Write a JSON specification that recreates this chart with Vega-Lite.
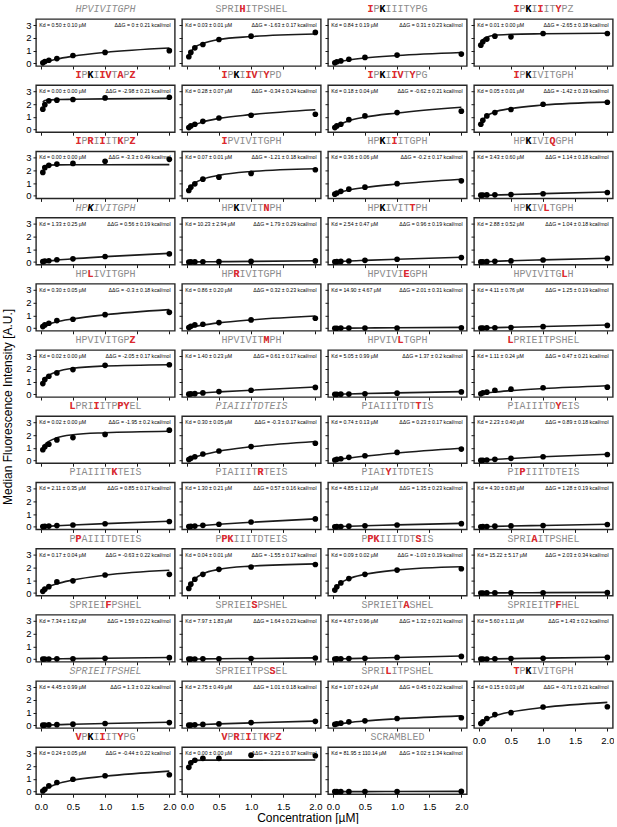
{
"$schema": "https://vega.github.io/schema/vega-lite/v6.json",
"background": "white",
"padding": {"left": 2, "top": 3, "right": 0, "bottom": 0},
"datasets": {"D": [
{"p":1,"x":0.03125,"y":0.05,"f":0.03},{"p":1,"x":0.0625,"y":0.15,"f":0.09},{"p":1,"x":0.125,"y":0.25,"f":0.18},{"p":1,"x":0.25,"y":0.38,"f":0.34},{"p":1,"x":0.5,"y":0.62,"f":0.56},{"p":1,"x":1,"y":0.86,"f":0.86},
{"p":1,"x":2,"y":1.0,"f":1.2,"g":"HPVIVITGPH","it":true,"kd":"Kd = 0.50 ± 0.10 µM","dg":"ΔΔG = 0 ± 0.21 kcal/mol"},
{"p":2,"x":0.03125,"y":0.52,"f":0.55},{"p":2,"x":0.0625,"y":0.86,"f":0.9},{"p":2,"x":0.125,"y":1.22,"f":1.25},{"p":2,"x":0.25,"y":1.48,"f":1.55},{"p":2,"x":0.5,"y":1.87,"f":1.87},{"p":2,"x":1,"y":2.13,"f":2.1},
{"p":2,"x":2,"y":2.42,"f":2.3,"g":"SPRIHITPSHEL","r":"\u200b\u00a0\u00a0\u00a0\u00a0H\u00a0\u00a0\u00a0\u00a0\u00a0\u00a0\u00a0\u200b","kd":"Kd = 0.03 ± 0.01 µM","dg":"ΔΔG = -1.63 ± 0.17 kcal/mol"},
{"p":3,"x":0.03125,"y":0.05,"f":0.04},{"p":3,"x":0.0625,"y":0.13,"f":0.09},{"p":3,"x":0.125,"y":0.2,"f":0.16},{"p":3,"x":0.25,"y":0.33,"f":0.27},{"p":3,"x":0.5,"y":0.47,"f":0.43},{"p":3,"x":1,"y":0.65,"f":0.62},
{"p":3,"x":2,"y":0.73,"f":0.86,"g":"IPKIIITYPG","r":"\u200bI\u00a0\u00a0\u00a0\u00a0\u00a0\u00a0\u00a0\u00a0\u00a0\u200b","k":"\u200b\u00a0\u00a0K\u00a0\u00a0\u00a0\u00a0\u00a0\u00a0\u00a0\u200b","kd":"Kd = 0.84 ± 0.19 µM","dg":"ΔΔG = 0.31 ± 0.23 kcal/mol"},
{"p":4,"x":0.03125,"y":1.43,"f":1.6},{"p":4,"x":0.0625,"y":1.69,"f":1.85},{"p":4,"x":0.125,"y":1.9,"f":2.05},{"p":4,"x":0.25,"y":2.13,"f":2.2},{"p":4,"x":0.5,"y":2.08,"f":2.27},{"p":4,"x":1,"y":2.34,"f":2.32},
{"p":4,"x":2,"y":2.34,"f":2.36,"g":"IPKIIITYPZ","r":"\u200bI\u00a0\u00a0\u00a0I\u00a0\u00a0Y\u00a0\u00a0\u200b","k":"\u200b\u00a0\u00a0K\u00a0\u00a0\u00a0\u00a0\u00a0\u00a0\u00a0\u200b","kd":"Kd = 0.01 ± 0.00 µM","dg":"ΔΔG = -2.65 ± 0.18 kcal/mol"},
{"p":5,"x":0.03125,"y":1.6,"f":2.15},{"p":5,"x":0.0625,"y":1.95,"f":2.27},{"p":5,"x":0.125,"y":2.25,"f":2.32},{"p":5,"x":0.25,"y":2.3,"f":2.35},{"p":5,"x":0.5,"y":2.35,"f":2.37},{"p":5,"x":1,"y":2.48,"f":2.4},
{"p":5,"x":2,"y":2.53,"f":2.44,"g":"IPKIIVTAPZ","r":"\u200bI\u00a0\u00a0\u00a0IV\u00a0A\u00a0Z\u200b","k":"\u200b\u00a0\u00a0K\u00a0\u00a0\u00a0\u00a0\u00a0\u00a0\u00a0\u200b","kd":"Kd = 0.00 ± 0.00 µM","dg":"ΔΔG = -2.98 ± 0.21 kcal/mol"},
{"p":6,"x":0.03125,"y":0.16,"f":0.1},{"p":6,"x":0.0625,"y":0.29,"f":0.22},{"p":6,"x":0.125,"y":0.42,"f":0.38},{"p":6,"x":0.25,"y":0.65,"f":0.6},{"p":6,"x":0.5,"y":0.91,"f":0.88},{"p":6,"x":1,"y":1.12,"f":1.17},
{"p":6,"x":2,"y":1.2,"f":1.55,"g":"IPKIIVTYPD","r":"\u200bI\u00a0\u00a0\u00a0IV\u00a0Y\u00a0\u00a0\u200b","k":"\u200b\u00a0\u00a0K\u00a0\u00a0\u00a0\u00a0\u00a0\u00a0\u00a0\u200b","kd":"Kd = 0.28 ± 0.07 µM","dg":"ΔΔG = -0.34 ± 0.24 kcal/mol"},
{"p":7,"x":0.03125,"y":0.16,"f":0.13},{"p":7,"x":0.0625,"y":0.29,"f":0.25},{"p":7,"x":0.125,"y":0.42,"f":0.44},{"p":7,"x":0.25,"y":0.78,"f":0.7},{"p":7,"x":0.5,"y":1.07,"f":0.98},{"p":7,"x":1,"y":1.33,"f":1.3},
{"p":7,"x":2,"y":1.44,"f":1.75,"g":"IPKIIVTYPG","r":"\u200bI\u00a0\u00a0\u00a0IV\u00a0Y\u00a0\u00a0\u200b","k":"\u200b\u00a0\u00a0K\u00a0\u00a0\u00a0\u00a0\u00a0\u00a0\u00a0\u200b","kd":"Kd = 0.18 ± 0.04 µM","dg":"ΔΔG = -0.62 ± 0.21 kcal/mol"},
{"p":8,"x":0.03125,"y":0.42,"f":0.45},{"p":8,"x":0.0625,"y":0.73,"f":0.75},{"p":8,"x":0.125,"y":1.07,"f":1.08},{"p":8,"x":0.25,"y":1.33,"f":1.38},{"p":8,"x":0.5,"y":1.57,"f":1.65},{"p":8,"x":1,"y":1.98,"f":1.92},
{"p":8,"x":2,"y":2.14,"f":2.15,"g":"IPKIVITGPH","r":"\u200bI\u00a0\u00a0\u00a0\u00a0\u00a0\u00a0\u00a0\u00a0\u00a0\u200b","k":"\u200b\u00a0\u00a0K\u00a0\u00a0\u00a0\u00a0\u00a0\u00a0\u00a0\u200b","kd":"Kd = 0.05 ± 0.01 µM","dg":"ΔΔG = -1.42 ± 0.19 kcal/mol"},
{"p":9,"x":0.03125,"y":1.83,"f":2.2},{"p":9,"x":0.0625,"y":2.2,"f":2.33},{"p":9,"x":0.125,"y":2.38,"f":2.4},{"p":9,"x":0.25,"y":2.48,"f":2.42},{"p":9,"x":0.5,"y":2.53,"f":2.43},{"p":9,"x":1,"y":2.7,"f":2.43},
{"p":9,"x":2,"y":2.85,"f":2.44,"g":"IPRIIITKPZ","r":"\u200bI\u00a0R\u00a0I\u00a0\u00a0K\u00a0Z\u200b","kd":"Kd = 0.00 ± 0.00 µM","dg":"ΔΔG = -3.3 ± 0.49 kcal/mol"},
{"p":10,"x":0.03125,"y":0.42,"f":0.45},{"p":10,"x":0.0625,"y":0.68,"f":0.72},{"p":10,"x":0.125,"y":0.94,"f":1.0},{"p":10,"x":0.25,"y":1.3,"f":1.3},{"p":10,"x":0.5,"y":1.46,"f":1.6},{"p":10,"x":1,"y":1.75,"f":1.9},
{"p":10,"x":2,"y":2.04,"f":2.12,"g":"IPVIVITGPH","r":"\u200bI\u00a0\u00a0\u00a0\u00a0\u00a0\u00a0\u00a0\u00a0\u00a0\u200b","kd":"Kd = 0.07 ± 0.01 µM","dg":"ΔΔG = -1.21 ± 0.18 kcal/mol"},
{"p":11,"x":0.03125,"y":0.13,"f":0.07},{"p":11,"x":0.0625,"y":0.22,"f":0.15},{"p":11,"x":0.125,"y":0.35,"f":0.28},{"p":11,"x":0.25,"y":0.52,"f":0.45},{"p":11,"x":0.5,"y":0.68,"f":0.65},{"p":11,"x":1,"y":0.95,"f":0.92},
{"p":11,"x":2,"y":1.17,"f":1.3,"g":"HPKIIITGPH","r":"\u200b\u00a0\u00a0\u00a0\u00a0I\u00a0\u00a0\u00a0\u00a0\u00a0\u200b","k":"\u200b\u00a0\u00a0K\u00a0\u00a0\u00a0\u00a0\u00a0\u00a0\u00a0\u200b","kd":"Kd = 0.36 ± 0.06 µM","dg":"ΔΔG = -0.2 ± 0.17 kcal/mol"},
{"p":12,"x":0.03125,"y":0.05,"f":0.01},{"p":12,"x":0.0625,"y":0.06,"f":0.02},{"p":12,"x":0.125,"y":0.07,"f":0.04},{"p":12,"x":0.25,"y":0.08,"f":0.06},{"p":12,"x":0.5,"y":0.1,"f":0.1},{"p":12,"x":1,"y":0.16,"f":0.17},
{"p":12,"x":2,"y":0.26,"f":0.3,"g":"HPKIVIQGPH","r":"\u200b\u00a0\u00a0\u00a0\u00a0\u00a0\u00a0Q\u00a0\u00a0\u00a0\u200b","k":"\u200b\u00a0\u00a0K\u00a0\u00a0\u00a0\u00a0\u00a0\u00a0\u00a0\u200b","kd":"Kd = 3.43 ± 0.60 µM","dg":"ΔΔG = 1.14 ± 0.18 kcal/mol"},
{"p":13,"x":0.03125,"y":0.03,"f":0.02},{"p":13,"x":0.0625,"y":0.08,"f":0.04},{"p":13,"x":0.125,"y":0.1,"f":0.08},{"p":13,"x":0.25,"y":0.18,"f":0.15},{"p":13,"x":0.5,"y":0.25,"f":0.26},{"p":13,"x":1,"y":0.43,"f":0.42},
{"p":13,"x":2,"y":0.64,"f":0.68,"g":"HPKIVITGPH","it":true,"k":"\u200b\u00a0\u00a0K\u00a0\u00a0\u00a0\u00a0\u00a0\u00a0\u00a0\u200b","kd":"Kd = 1.33 ± 0.25 µM","dg":"ΔΔG = 0.56 ± 0.19 kcal/mol"},
{"p":14,"x":0.03125,"y":0,"f":0},{"p":14,"x":0.0625,"y":0.01,"f":0.005},{"p":14,"x":0.125,"y":0.01,"f":0.01},{"p":14,"x":0.25,"y":0.02,"f":0.02},{"p":14,"x":0.5,"y":0.03,"f":0.03},{"p":14,"x":1,"y":0.05,"f":0.05},
{"p":14,"x":2,"y":0.09,"f":0.1,"g":"HPKIVITNPH","r":"\u200b\u00a0\u00a0\u00a0\u00a0\u00a0\u00a0\u00a0N\u00a0\u00a0\u200b","k":"\u200b\u00a0\u00a0K\u00a0\u00a0\u00a0\u00a0\u00a0\u00a0\u00a0\u200b","kd":"Kd = 10.23 ± 2.94 µM","dg":"ΔΔG = 1.79 ± 0.29 kcal/mol"},
{"p":15,"x":0.03125,"y":0.02,"f":0.01},{"p":15,"x":0.0625,"y":0.03,"f":0.02},{"p":15,"x":0.125,"y":0.05,"f":0.04},{"p":15,"x":0.25,"y":0.08,"f":0.08},{"p":15,"x":0.5,"y":0.13,"f":0.13},{"p":15,"x":1,"y":0.22,"f":0.22},
{"p":15,"x":2,"y":0.35,"f":0.37,"g":"HPKIVITTPH","r":"\u200b\u00a0\u00a0\u00a0\u00a0\u00a0\u00a0\u00a0T\u00a0\u00a0\u200b","k":"\u200b\u00a0\u00a0K\u00a0\u00a0\u00a0\u00a0\u00a0\u00a0\u00a0\u200b","kd":"Kd = 2.54 ± 0.47 µM","dg":"ΔΔG = 0.96 ± 0.19 kcal/mol"},
{"p":16,"x":0.03125,"y":0.01,"f":0.01},{"p":16,"x":0.0625,"y":0.02,"f":0.02},{"p":16,"x":0.125,"y":0.03,"f":0.03},{"p":16,"x":0.25,"y":0.06,"f":0.06},{"p":16,"x":0.5,"y":0.09,"f":0.1},{"p":16,"x":1,"y":0.16,"f":0.17},
{"p":16,"x":2,"y":0.28,"f":0.3,"g":"HPKIVLTGPH","r":"\u200b\u00a0\u00a0\u00a0\u00a0\u00a0L\u00a0\u00a0\u00a0\u00a0\u200b","k":"\u200b\u00a0\u00a0K\u00a0\u00a0\u00a0\u00a0\u00a0\u00a0\u00a0\u200b","kd":"Kd = 2.88 ± 0.52 µM","dg":"ΔΔG = 1.04 ± 0.18 kcal/mol"},
{"p":17,"x":0.03125,"y":0.13,"f":0.07},{"p":17,"x":0.0625,"y":0.26,"f":0.16},{"p":17,"x":0.125,"y":0.39,"f":0.3},{"p":17,"x":0.25,"y":0.6,"f":0.5},{"p":17,"x":0.5,"y":0.7,"f":0.73},{"p":17,"x":1,"y":1.06,"f":1.05},
{"p":17,"x":2,"y":1.24,"f":1.45,"g":"HPLIVITGPH","r":"\u200b\u00a0\u00a0L\u00a0\u00a0\u00a0\u00a0\u00a0\u00a0\u00a0\u200b","kd":"Kd = 0.30 ± 0.05 µM","dg":"ΔΔG = -0.3 ± 0.18 kcal/mol"},
{"p":18,"x":0.03125,"y":0.05,"f":0.03},{"p":18,"x":0.0625,"y":0.15,"f":0.07},{"p":18,"x":0.125,"y":0.26,"f":0.14},{"p":18,"x":0.25,"y":0.31,"f":0.25},{"p":18,"x":0.5,"y":0.44,"f":0.42},{"p":18,"x":1,"y":0.65,"f":0.65},
{"p":18,"x":2,"y":0.78,"f":0.95,"g":"HPRIVITGPH","r":"\u200b\u00a0\u00a0R\u00a0\u00a0\u00a0\u00a0\u00a0\u00a0\u00a0\u200b","kd":"Kd = 0.86 ± 0.20 µM","dg":"ΔΔG = 0.32 ± 0.23 kcal/mol"},
{"p":19,"x":0.03125,"y":0,"f":0},{"p":19,"x":0.0625,"y":0,"f":0},{"p":19,"x":0.125,"y":0.01,"f":0.005},{"p":19,"x":0.25,"y":0.01,"f":0.01},{"p":19,"x":0.5,"y":0.01,"f":0.02},{"p":19,"x":1,"y":0.02,"f":0.04},
{"p":19,"x":2,"y":0.04,"f":0.07,"g":"HPVIVIEGPH","r":"\u200b\u00a0\u00a0\u00a0\u00a0\u00a0\u00a0E\u00a0\u00a0\u00a0\u200b","kd":"Kd = 14.90 ± 4.67 µM","dg":"ΔΔG = 2.01 ± 0.31 kcal/mol"},
{"p":20,"x":0.03125,"y":0.01,"f":0.01},{"p":20,"x":0.0625,"y":0.02,"f":0.015},{"p":20,"x":0.125,"y":0.03,"f":0.03},{"p":20,"x":0.25,"y":0.04,"f":0.05},{"p":20,"x":0.5,"y":0.06,"f":0.08},{"p":20,"x":1,"y":0.12,"f":0.14},
{"p":20,"x":2,"y":0.22,"f":0.25,"g":"HPVIVITGLH","r":"\u200b\u00a0\u00a0\u00a0\u00a0\u00a0\u00a0\u00a0\u00a0L\u00a0\u200b","kd":"Kd = 4.11 ± 0.76 µM","dg":"ΔΔG = 1.25 ± 0.19 kcal/mol"},
{"p":21,"x":0.03125,"y":0.85,"f":1.0},{"p":21,"x":0.0625,"y":1.16,"f":1.25},{"p":21,"x":0.125,"y":1.42,"f":1.5},{"p":21,"x":0.25,"y":1.68,"f":1.78},{"p":21,"x":0.5,"y":1.94,"f":2.05},{"p":21,"x":1,"y":2.27,"f":2.22},
{"p":21,"x":2,"y":2.32,"f":2.32,"g":"HPVIVITGPZ","r":"\u200b\u00a0\u00a0\u00a0\u00a0\u00a0\u00a0\u00a0\u00a0\u00a0Z\u200b","kd":"Kd = 0.02 ± 0.00 µM","dg":"ΔΔG = -2.05 ± 0.17 kcal/mol"},
{"p":22,"x":0.03125,"y":0.02,"f":0.02},{"p":22,"x":0.0625,"y":0.04,"f":0.04},{"p":22,"x":0.125,"y":0.06,"f":0.07},{"p":22,"x":0.25,"y":0.12,"f":0.12},{"p":22,"x":0.5,"y":0.22,"f":0.2},{"p":22,"x":1,"y":0.33,"f":0.33},
{"p":22,"x":2,"y":0.55,"f":0.58,"g":"HPVIVITMPH","r":"\u200b\u00a0\u00a0\u00a0\u00a0\u00a0\u00a0\u00a0M\u00a0\u00a0\u200b","kd":"Kd = 1.40 ± 0.23 µM","dg":"ΔΔG = 0.61 ± 0.17 kcal/mol"},
{"p":23,"x":0.03125,"y":0.01,"f":0.005},{"p":23,"x":0.0625,"y":0.01,"f":0.01},{"p":23,"x":0.125,"y":0.02,"f":0.02},{"p":23,"x":0.25,"y":0.03,"f":0.04},{"p":23,"x":0.5,"y":0.05,"f":0.07},{"p":23,"x":1,"y":0.1,"f":0.12},
{"p":23,"x":2,"y":0.2,"f":0.22,"g":"HPVIVLTGPH","r":"\u200b\u00a0\u00a0\u00a0\u00a0\u00a0L\u00a0\u00a0\u00a0\u00a0\u200b","kd":"Kd = 5.05 ± 0.99 µM","dg":"ΔΔG = 1.37 ± 0.2 kcal/mol"},
{"p":24,"x":0.03125,"y":0.05,"f":0.03},{"p":24,"x":0.0625,"y":0.13,"f":0.06},{"p":24,"x":0.125,"y":0.18,"f":0.11},{"p":24,"x":0.25,"y":0.33,"f":0.19},{"p":24,"x":0.5,"y":0.41,"f":0.3},{"p":24,"x":1,"y":0.52,"f":0.46},
{"p":24,"x":2,"y":0.57,"f":0.68,"g":"LPRIEITPSHEL","r":"\u200bL\u00a0\u00a0\u00a0\u00a0\u00a0\u00a0\u00a0\u00a0\u00a0\u00a0\u00a0\u200b","kd":"Kd = 1.11 ± 0.24 µM","dg":"ΔΔG = 0.47 ± 0.21 kcal/mol"},
{"p":25,"x":0.03125,"y":0.85,"f":1.0},{"p":25,"x":0.0625,"y":1.08,"f":1.25},{"p":25,"x":0.125,"y":1.28,"f":1.5},{"p":25,"x":0.25,"y":1.62,"f":1.78},{"p":25,"x":0.5,"y":1.8,"f":2.02},{"p":25,"x":1,"y":2.05,"f":2.18},
{"p":25,"x":2,"y":2.38,"f":2.3,"g":"LPRIIITPPYEL","r":"\u200bL\u00a0\u00a0\u00a0I\u00a0\u00a0\u00a0PY\u00a0\u00a0\u200b","kd":"Kd = 0.02 ± 0.00 µM","dg":"ΔΔG = -1.95 ± 0.2 kcal/mol"},
{"p":26,"x":0.03125,"y":0.08,"f":0.07},{"p":26,"x":0.0625,"y":0.18,"f":0.14},{"p":26,"x":0.125,"y":0.3,"f":0.27},{"p":26,"x":0.25,"y":0.52,"f":0.46},{"p":26,"x":0.5,"y":0.75,"f":0.74},{"p":26,"x":1,"y":1.1,"f":1.08},
{"p":26,"x":2,"y":1.36,"f":1.5,"g":"PIAIIITDTEIS","it":true,"kd":"Kd = 0.30 ± 0.05 µM","dg":"ΔΔG = -0.3 ± 0.17 kcal/mol"},
{"p":27,"x":0.03125,"y":0.05,"f":0.03},{"p":27,"x":0.0625,"y":0.1,"f":0.06},{"p":27,"x":0.125,"y":0.15,"f":0.11},{"p":27,"x":0.25,"y":0.26,"f":0.2},{"p":27,"x":0.5,"y":0.38,"f":0.35},{"p":27,"x":1,"y":0.64,"f":0.6},
{"p":27,"x":2,"y":0.9,"f":0.97,"g":"PIAIIITDTTIS","r":"\u200b\u00a0\u00a0\u00a0\u00a0\u00a0\u00a0\u00a0\u00a0\u00a0T\u00a0\u00a0\u200b","kd":"Kd = 0.74 ± 0.13 µM","dg":"ΔΔG = 0.23 ± 0.17 kcal/mol"},
{"p":28,"x":0.03125,"y":0.02,"f":0.01},{"p":28,"x":0.0625,"y":0.03,"f":0.03},{"p":28,"x":0.125,"y":0.05,"f":0.05},{"p":28,"x":0.25,"y":0.1,"f":0.1},{"p":28,"x":0.5,"y":0.18,"f":0.17},{"p":28,"x":1,"y":0.3,"f":0.3},
{"p":28,"x":2,"y":0.48,"f":0.5,"g":"PIAIIITDYEIS","r":"\u200b\u00a0\u00a0\u00a0\u00a0\u00a0\u00a0\u00a0\u00a0Y\u00a0\u00a0\u00a0\u200b","kd":"Kd = 2.23 ± 0.40 µM","dg":"ΔΔG = 0.89 ± 0.18 kcal/mol"},
{"p":29,"x":0.03125,"y":0.02,"f":0.01},{"p":29,"x":0.0625,"y":0.04,"f":0.02},{"p":29,"x":0.125,"y":0.06,"f":0.05},{"p":29,"x":0.25,"y":0.1,"f":0.08},{"p":29,"x":0.5,"y":0.14,"f":0.14},{"p":29,"x":1,"y":0.24,"f":0.25},
{"p":29,"x":2,"y":0.42,"f":0.44,"g":"PIAIIITKTEIS","r":"\u200b\u00a0\u00a0\u00a0\u00a0\u00a0\u00a0\u00a0K\u00a0\u00a0\u00a0\u00a0\u200b","kd":"Kd = 2.11 ± 0.35 µM","dg":"ΔΔG = 0.85 ± 0.17 kcal/mol"},
{"p":30,"x":0.03125,"y":0.02,"f":0.01},{"p":30,"x":0.0625,"y":0.04,"f":0.03},{"p":30,"x":0.125,"y":0.06,"f":0.06},{"p":30,"x":0.25,"y":0.12,"f":0.11},{"p":30,"x":0.5,"y":0.2,"f":0.2},{"p":30,"x":1,"y":0.38,"f":0.36},
{"p":30,"x":2,"y":0.62,"f":0.62,"g":"PIAIIITRTEIS","r":"\u200b\u00a0\u00a0\u00a0\u00a0\u00a0\u00a0\u00a0R\u00a0\u00a0\u00a0\u00a0\u200b","kd":"Kd = 1.30 ± 0.21 µM","dg":"ΔΔG = 0.57 ± 0.16 kcal/mol"},
{"p":31,"x":0.03125,"y":0.01,"f":0.01},{"p":31,"x":0.0625,"y":0.02,"f":0.015},{"p":31,"x":0.125,"y":0.03,"f":0.03},{"p":31,"x":0.25,"y":0.05,"f":0.05},{"p":31,"x":0.5,"y":0.08,"f":0.08},{"p":31,"x":1,"y":0.14,"f":0.15},
{"p":31,"x":2,"y":0.25,"f":0.27,"g":"PIAIYITDTEIS","r":"\u200b\u00a0\u00a0\u00a0\u00a0Y\u00a0\u00a0\u00a0\u00a0\u00a0\u00a0\u00a0\u200b","kd":"Kd = 4.85 ± 1.12 µM","dg":"ΔΔG = 1.35 ± 0.23 kcal/mol"},
{"p":32,"x":0.03125,"y":0.01,"f":0.005},{"p":32,"x":0.0625,"y":0.02,"f":0.01},{"p":32,"x":0.125,"y":0.03,"f":0.02},{"p":32,"x":0.25,"y":0.05,"f":0.04},{"p":32,"x":0.5,"y":0.07,"f":0.07},{"p":32,"x":1,"y":0.1,"f":0.11},
{"p":32,"x":2,"y":0.18,"f":0.2,"g":"PIPIIITDTEIS","r":"\u200b\u00a0\u00a0P\u00a0\u00a0\u00a0\u00a0\u00a0\u00a0\u00a0\u00a0\u00a0\u200b","kd":"Kd = 4.30 ± 0.83 µM","dg":"ΔΔG = 1.28 ± 0.19 kcal/mol"},
{"p":33,"x":0.03125,"y":0.13,"f":0.13},{"p":33,"x":0.0625,"y":0.3,"f":0.28},{"p":33,"x":0.125,"y":0.5,"f":0.48},{"p":33,"x":0.25,"y":0.87,"f":0.72},{"p":33,"x":0.5,"y":0.95,"f":1.02},{"p":33,"x":1,"y":1.41,"f":1.4},
{"p":33,"x":2,"y":1.46,"f":1.78,"g":"PPAIIITDTEIS","r":"\u200b\u00a0P\u00a0\u00a0\u00a0\u00a0\u00a0\u00a0\u00a0\u00a0\u00a0\u00a0\u200b","kd":"Kd = 0.17 ± 0.04 µM","dg":"ΔΔG = -0.63 ± 0.22 kcal/mol"},
{"p":34,"x":0.03125,"y":0.36,"f":0.42},{"p":34,"x":0.0625,"y":0.69,"f":0.72},{"p":34,"x":0.125,"y":1.08,"f":1.1},{"p":34,"x":0.25,"y":1.46,"f":1.5},{"p":34,"x":0.5,"y":1.85,"f":1.85},{"p":34,"x":1,"y":2.03,"f":2.1},
{"p":34,"x":2,"y":2.23,"f":2.28,"g":"PPKIIITDTEIS","r":"\u200b\u00a0PK\u00a0\u00a0\u00a0\u00a0\u00a0\u00a0\u00a0\u00a0\u00a0\u200b","kd":"Kd = 0.04 ± 0.01 µM","dg":"ΔΔG = -1.55 ± 0.17 kcal/mol"},
{"p":35,"x":0.03125,"y":0.23,"f":0.28},{"p":35,"x":0.0625,"y":0.49,"f":0.48},{"p":35,"x":0.125,"y":0.79,"f":0.78},{"p":35,"x":0.25,"y":1.13,"f":1.12},{"p":35,"x":0.5,"y":1.46,"f":1.46},{"p":35,"x":1,"y":1.79,"f":1.8},
{"p":35,"x":2,"y":1.9,"f":2.05,"g":"PPKIIITDTSIS","r":"\u200b\u00a0PK\u00a0\u00a0\u00a0\u00a0\u00a0\u00a0S\u00a0\u00a0\u200b","kd":"Kd = 0.09 ± 0.02 µM","dg":"ΔΔG = -1.03 ± 0.19 kcal/mol"},
{"p":36,"x":0.03125,"y":0,"f":0},{"p":36,"x":0.0625,"y":0.005,"f":0.005},{"p":36,"x":0.125,"y":0.01,"f":0.01},{"p":36,"x":0.25,"y":0.01,"f":0.01},{"p":36,"x":0.5,"y":0.015,"f":0.02},{"p":36,"x":1,"y":0.02,"f":0.03},
{"p":36,"x":2,"y":0.03,"f":0.05,"g":"SPRIAITPSHEL","r":"\u200b\u00a0\u00a0\u00a0\u00a0A\u00a0\u00a0\u00a0\u00a0\u00a0\u00a0\u00a0\u200b","kd":"Kd = 15.22 ± 5.17 µM","dg":"ΔΔG = 2.03 ± 0.34 kcal/mol"},
{"p":37,"x":0.03125,"y":0.01,"f":0.005},{"p":37,"x":0.0625,"y":0.02,"f":0.01},{"p":37,"x":0.125,"y":0.02,"f":0.02},{"p":37,"x":0.25,"y":0.03,"f":0.03},{"p":37,"x":0.5,"y":0.04,"f":0.05},{"p":37,"x":1,"y":0.07,"f":0.08},
{"p":37,"x":2,"y":0.12,"f":0.14,"g":"SPRIEIFPSHEL","r":"\u200b\u00a0\u00a0\u00a0\u00a0\u00a0\u00a0F\u00a0\u00a0\u00a0\u00a0\u00a0\u200b","kd":"Kd = 7.34 ± 1.62 µM","dg":"ΔΔG = 1.59 ± 0.22 kcal/mol"},
{"p":38,"x":0.03125,"y":0.01,"f":0.005},{"p":38,"x":0.0625,"y":0.01,"f":0.01},{"p":38,"x":0.125,"y":0.02,"f":0.015},{"p":38,"x":0.25,"y":0.03,"f":0.025},{"p":38,"x":0.5,"y":0.04,"f":0.04},{"p":38,"x":1,"y":0.06,"f":0.06},
{"p":38,"x":2,"y":0.1,"f":0.11,"g":"SPRIEISPSHEL","r":"\u200b\u00a0\u00a0\u00a0\u00a0\u00a0\u00a0S\u00a0\u00a0\u00a0\u00a0\u00a0\u200b","kd":"Kd = 7.97 ± 1.83 µM","dg":"ΔΔG = 1.64 ± 0.23 kcal/mol"},
{"p":39,"x":0.03125,"y":0.02,"f":0.01},{"p":39,"x":0.0625,"y":0.03,"f":0.02},{"p":39,"x":0.125,"y":0.04,"f":0.03},{"p":39,"x":0.25,"y":0.05,"f":0.05},{"p":39,"x":0.5,"y":0.07,"f":0.08},{"p":39,"x":1,"y":0.14,"f":0.14},
{"p":39,"x":2,"y":0.22,"f":0.25,"g":"SPRIEITASHEL","r":"\u200b\u00a0\u00a0\u00a0\u00a0\u00a0\u00a0\u00a0A\u00a0\u00a0\u00a0\u00a0\u200b","kd":"Kd = 4.67 ± 0.96 µM","dg":"ΔΔG = 1.32 ± 0.21 kcal/mol"},
{"p":40,"x":0.03125,"y":0.01,"f":0.005},{"p":40,"x":0.0625,"y":0.02,"f":0.01},{"p":40,"x":0.125,"y":0.02,"f":0.02},{"p":40,"x":0.25,"y":0.03,"f":0.03},{"p":40,"x":0.5,"y":0.05,"f":0.05},{"p":40,"x":1,"y":0.08,"f":0.09},
{"p":40,"x":2,"y":0.14,"f":0.16,"g":"SPRIEITPFHEL","r":"\u200b\u00a0\u00a0\u00a0\u00a0\u00a0\u00a0\u00a0\u00a0F\u00a0\u00a0\u00a0\u200b","kd":"Kd = 5.60 ± 1.11 µM","dg":"ΔΔG = 1.43 ± 0.2 kcal/mol"},
{"p":41,"x":0.03125,"y":0.02,"f":0.01},{"p":41,"x":0.0625,"y":0.03,"f":0.02},{"p":41,"x":0.125,"y":0.04,"f":0.03},{"p":41,"x":0.25,"y":0.06,"f":0.06},{"p":41,"x":0.5,"y":0.1,"f":0.09},{"p":41,"x":1,"y":0.15,"f":0.15},
{"p":41,"x":2,"y":0.22,"f":0.25,"g":"SPRIEITPSHEL","it":true,"kd":"Kd = 4.45 ± 0.99 µM","dg":"ΔΔG = 1.3 ± 0.22 kcal/mol"},
{"p":42,"x":0.03125,"y":0.02,"f":0.01},{"p":42,"x":0.0625,"y":0.03,"f":0.02},{"p":42,"x":0.125,"y":0.05,"f":0.04},{"p":42,"x":0.25,"y":0.08,"f":0.07},{"p":42,"x":0.5,"y":0.12,"f":0.12},{"p":42,"x":1,"y":0.22,"f":0.2},
{"p":42,"x":2,"y":0.32,"f":0.34,"g":"SPRIEITPSSEL","r":"\u200b\u00a0\u00a0\u00a0\u00a0\u00a0\u00a0\u00a0\u00a0\u00a0S\u00a0\u00a0\u200b","kd":"Kd = 2.75 ± 0.49 µM","dg":"ΔΔG = 1.01 ± 0.18 kcal/mol"},
{"p":43,"x":0.03125,"y":0.08,"f":0.04},{"p":43,"x":0.0625,"y":0.13,"f":0.08},{"p":43,"x":0.125,"y":0.18,"f":0.13},{"p":43,"x":0.25,"y":0.28,"f":0.22},{"p":43,"x":0.5,"y":0.36,"f":0.35},{"p":43,"x":1,"y":0.54,"f":0.52},
{"p":43,"x":2,"y":0.6,"f":0.75,"g":"SPRILITPSHEL","r":"\u200b\u00a0\u00a0\u00a0\u00a0L\u00a0\u00a0\u00a0\u00a0\u00a0\u00a0\u00a0\u200b","kd":"Kd = 1.07 ± 0.24 µM","dg":"ΔΔG = 0.45 ± 0.22 kcal/mol"},
{"p":44,"x":0.03125,"y":0.15,"f":0.15},{"p":44,"x":0.0625,"y":0.28,"f":0.3},{"p":44,"x":0.125,"y":0.54,"f":0.5},{"p":44,"x":0.25,"y":0.85,"f":0.75},{"p":44,"x":0.5,"y":1.0,"f":1.05},{"p":44,"x":1,"y":1.44,"f":1.4},
{"p":44,"x":2,"y":1.46,"f":1.8,"g":"TPKIVITGPH","r":"\u200bT\u00a0\u00a0\u00a0\u00a0\u00a0\u00a0\u00a0\u00a0\u00a0\u200b","k":"\u200b\u00a0\u00a0K\u00a0\u00a0\u00a0\u00a0\u00a0\u00a0\u00a0\u200b","kd":"Kd = 0.15 ± 0.03 µM","dg":"ΔΔG = -0.71 ± 0.21 kcal/mol"},
{"p":45,"x":0.03125,"y":0.05,"f":0.1},{"p":45,"x":0.0625,"y":0.18,"f":0.2},{"p":45,"x":0.125,"y":0.45,"f":0.35},{"p":45,"x":0.25,"y":0.71,"f":0.6},{"p":45,"x":0.5,"y":0.97,"f":0.9},{"p":45,"x":1,"y":1.24,"f":1.2},
{"p":45,"x":2,"y":1.32,"f":1.6,"g":"VPKIIITYPG","r":"\u200bV\u00a0\u00a0\u00a0I\u00a0\u00a0Y\u00a0\u00a0\u200b","k":"\u200b\u00a0\u00a0K\u00a0\u00a0\u00a0\u00a0\u00a0\u00a0\u00a0\u200b","kd":"Kd = 0.24 ± 0.05 µM","dg":"ΔΔG = -0.44 ± 0.22 kcal/mol"},
{"p":46,"x":0.03125,"y":1.9,"f":2.2},{"p":46,"x":0.0625,"y":2.25,"f":2.38},{"p":46,"x":0.125,"y":2.45,"f":2.44},{"p":46,"x":0.25,"y":2.6,"f":2.46},{"p":46,"x":0.5,"y":2.6,"f":2.46},{"p":46,"x":1,"y":2.85,"f":2.46},
{"p":46,"x":2,"y":2.8,"f":2.47,"g":"VPRIIITKPZ","r":"\u200bV\u00a0R\u00a0I\u00a0\u00a0K\u00a0Z\u200b","kd":"Kd = 0.00 ± 0.00 µM","dg":"ΔΔG = -3.23 ± 0.37 kcal/mol"},
{"p":47,"x":0.03125,"y":0,"f":0},{"p":47,"x":0.0625,"y":0,"f":0},{"p":47,"x":0.125,"y":0,"f":0},{"p":47,"x":0.25,"y":0,"f":0},{"p":47,"x":0.5,"y":0.01,"f":0.005},{"p":47,"x":1,"y":0.01,"f":0.01},
{"p":47,"x":2,"y":0.02,"f":0.02,"g":"SCRAMBLED","kd":"Kd = 81.95 ± 110.14 µM","dg":"ΔΔG = 3.02 ± 1.34 kcal/mol"}
]},
"config": {
  "view": {"stroke": "#262626", "strokeWidth": 1.4},
  "axis": {"labels": false, "domain": false, "grid": false, "ticks": true, "tickSize": 3, "tickColor": "#1a1a1a", "tickWidth": 1, "labelFont": "Liberation Sans", "labelFontSize": 9.5, "labelColor": "#000", "labelPadding": 2, "labelFlush": false, "minExtent": 0},
  "axisX": {"tickCount": 5},
  "axisY": {"tickCount": 4},
  "title": {"font": "Liberation Sans", "fontSize": 12, "fontWeight": "normal", "color": "#000"}
},
"title": {"text": "Concentration [µM]", "orient": "bottom", "anchor": "middle", "offset": 2},
"vconcat": [{
  "title": {"text": "Median Fluorescence Intensity [A.U.]", "orient": "left", "anchor": "middle", "offset": 10},
  "spacing": 1,
  "hconcat": [
  {"spacing": 0.5, "vconcat": [
    {"data": {"name": "D"}, "transform": [{"filter": "(datum.p-1)%4==0"}],
     "facet": {"row": {"field": "p", "type": "ordinal", "header": {"labels": false, "title": null}}},
     "spacing": 19.2, "bounds": "flush",
     "resolve": {"axis": {"x": "independent", "y": "independent"}},
     "spec": {"width": 138.8, "height": 47,
       "encoding": {"x": {"field": "x", "type": "quantitative", "scale": {"domain": [-0.075, 2.085], "nice": false}, "title": null},
                    "y": {"field": "y", "type": "quantitative", "scale": {"domain": [-0.2, 3.47], "nice": false}, "title": null, "axis": {"labels": true}}},
       "layer": [
        {"mark": {"type": "line", "color": "#1a1a1a", "strokeWidth": 1.6, "interpolate": "monotone"}, "encoding": {"y": {"field": "f", "type": "quantitative", "title": null}}},
        {"mark": {"type": "circle", "color": "#000", "size": 32, "opacity": 1}},
        {"transform": [{"filter": "isValid(datum.kd)"}], "layer": [
          {"mark": {"type": "text", "align": "left", "baseline": "middle", "fontSize": 5.2, "font": "Liberation Sans", "color": "#000", "clip": false}, "encoding": {"x": {"datum": -0.025}, "y": {"datum": 3}, "text": {"field": "kd"}}},
          {"mark": {"type": "text", "align": "right", "baseline": "middle", "fontSize": 5.2, "font": "Liberation Sans", "color": "#000", "clip": false}, "encoding": {"x": {"datum": 2.02}, "y": {"datum": 3}, "text": {"field": "dg"}}},
          {"transform": [{"fold": ["g", "r", "k"]}, {"filter": "datum.value"}],
           "mark": {"type": "text", "font": "Liberation Mono", "fontSize": 10, "align": "center", "baseline": "middle", "clip": false, "fontWeight": {"expr": "datum.key=='g'?'normal':'bold'"}, "fontStyle": {"expr": "datum.it?'italic':'normal'"}},
           "encoding": {"x": {"datum": 1.005}, "y": {"datum": 4.25}, "text": {"field": "value"}, "color": {"field": "key", "type": "nominal", "scale": {"domain": ["g", "r", "k"], "range": ["#8c8c8c", "#e0282e", "#000000"]}, "legend": null}}}
        ]}
       ]}},
    {"data": {"name": "D"}, "width": 138.8, "height": 1, "view": {"stroke": null},
     "mark": {"type": "point", "opacity": 0, "size": 0},
     "encoding": {"x": {"field": "x", "type": "quantitative", "scale": {"domain": [-0.075, 2.085], "nice": false}, "title": null, "axis": {"labels": true, "ticks": false, "format": ".1f", "labelPadding": 0.5}}}}
  ]},
  {"spacing": 0.5, "vconcat": [
    {"data": {"name": "D"}, "transform": [{"filter": "(datum.p-1)%4==1"}],
     "facet": {"row": {"field": "p", "type": "ordinal", "header": {"labels": false, "title": null}}},
     "spacing": 19.2, "bounds": "flush",
     "resolve": {"axis": {"x": "independent", "y": "independent"}},
     "spec": {"width": 138.8, "height": 47,
       "encoding": {"x": {"field": "x", "type": "quantitative", "scale": {"domain": [-0.075, 2.085], "nice": false}, "title": null},
                    "y": {"field": "y", "type": "quantitative", "scale": {"domain": [-0.2, 3.47], "nice": false}, "title": null}},
       "layer": [
        {"mark": {"type": "line", "color": "#1a1a1a", "strokeWidth": 1.6, "interpolate": "monotone"}, "encoding": {"y": {"field": "f", "type": "quantitative", "title": null}}},
        {"mark": {"type": "circle", "color": "#000", "size": 32, "opacity": 1}},
        {"transform": [{"filter": "isValid(datum.kd)"}], "layer": [
          {"mark": {"type": "text", "align": "left", "baseline": "middle", "fontSize": 5.2, "font": "Liberation Sans", "color": "#000", "clip": false}, "encoding": {"x": {"datum": -0.025}, "y": {"datum": 3}, "text": {"field": "kd"}}},
          {"mark": {"type": "text", "align": "right", "baseline": "middle", "fontSize": 5.2, "font": "Liberation Sans", "color": "#000", "clip": false}, "encoding": {"x": {"datum": 2.02}, "y": {"datum": 3}, "text": {"field": "dg"}}},
          {"transform": [{"fold": ["g", "r", "k"]}, {"filter": "datum.value"}],
           "mark": {"type": "text", "font": "Liberation Mono", "fontSize": 10, "align": "center", "baseline": "middle", "clip": false, "fontWeight": {"expr": "datum.key=='g'?'normal':'bold'"}, "fontStyle": {"expr": "datum.it?'italic':'normal'"}},
           "encoding": {"x": {"datum": 1.005}, "y": {"datum": 4.25}, "text": {"field": "value"}, "color": {"field": "key", "type": "nominal", "scale": {"domain": ["g", "r", "k"], "range": ["#8c8c8c", "#e0282e", "#000000"]}, "legend": null}}}
        ]}
       ]}},
    {"data": {"name": "D"}, "width": 138.8, "height": 1, "view": {"stroke": null},
     "mark": {"type": "point", "opacity": 0, "size": 0},
     "encoding": {"x": {"field": "x", "type": "quantitative", "scale": {"domain": [-0.075, 2.085], "nice": false}, "title": null, "axis": {"labels": true, "ticks": false, "format": ".1f", "labelPadding": 0.5}}}}
  ]},
  {"spacing": 0.5, "vconcat": [
    {"data": {"name": "D"}, "transform": [{"filter": "(datum.p-1)%4==2"}],
     "facet": {"row": {"field": "p", "type": "ordinal", "header": {"labels": false, "title": null}}},
     "spacing": 19.2, "bounds": "flush",
     "resolve": {"axis": {"x": "independent", "y": "independent"}},
     "spec": {"width": 138.8, "height": 47,
       "encoding": {"x": {"field": "x", "type": "quantitative", "scale": {"domain": [-0.075, 2.085], "nice": false}, "title": null},
                    "y": {"field": "y", "type": "quantitative", "scale": {"domain": [-0.2, 3.47], "nice": false}, "title": null}},
       "layer": [
        {"mark": {"type": "line", "color": "#1a1a1a", "strokeWidth": 1.6, "interpolate": "monotone"}, "encoding": {"y": {"field": "f", "type": "quantitative", "title": null}}},
        {"mark": {"type": "circle", "color": "#000", "size": 32, "opacity": 1}},
        {"transform": [{"filter": "isValid(datum.kd)"}], "layer": [
          {"mark": {"type": "text", "align": "left", "baseline": "middle", "fontSize": 5.2, "font": "Liberation Sans", "color": "#000", "clip": false}, "encoding": {"x": {"datum": -0.025}, "y": {"datum": 3}, "text": {"field": "kd"}}},
          {"mark": {"type": "text", "align": "right", "baseline": "middle", "fontSize": 5.2, "font": "Liberation Sans", "color": "#000", "clip": false}, "encoding": {"x": {"datum": 2.02}, "y": {"datum": 3}, "text": {"field": "dg"}}},
          {"transform": [{"fold": ["g", "r", "k"]}, {"filter": "datum.value"}],
           "mark": {"type": "text", "font": "Liberation Mono", "fontSize": 10, "align": "center", "baseline": "middle", "clip": false, "fontWeight": {"expr": "datum.key=='g'?'normal':'bold'"}, "fontStyle": {"expr": "datum.it?'italic':'normal'"}},
           "encoding": {"x": {"datum": 1.005}, "y": {"datum": 4.25}, "text": {"field": "value"}, "color": {"field": "key", "type": "nominal", "scale": {"domain": ["g", "r", "k"], "range": ["#8c8c8c", "#e0282e", "#000000"]}, "legend": null}}}
        ]}
       ]}},
    {"data": {"name": "D"}, "width": 138.8, "height": 1, "view": {"stroke": null},
     "mark": {"type": "point", "opacity": 0, "size": 0},
     "encoding": {"x": {"field": "x", "type": "quantitative", "scale": {"domain": [-0.075, 2.085], "nice": false}, "title": null, "axis": {"labels": true, "ticks": false, "format": ".1f", "labelPadding": 0.5}}}}
  ]},
  {"spacing": 0.5, "vconcat": [
    {"data": {"name": "D"}, "transform": [{"filter": "(datum.p-1)%4==3"}],
     "facet": {"row": {"field": "p", "type": "ordinal", "header": {"labels": false, "title": null}}},
     "spacing": 19.2, "bounds": "flush",
     "resolve": {"axis": {"x": "independent", "y": "independent"}},
     "spec": {"width": 138.8, "height": 47,
       "encoding": {"x": {"field": "x", "type": "quantitative", "scale": {"domain": [-0.075, 2.085], "nice": false}, "title": null},
                    "y": {"field": "y", "type": "quantitative", "scale": {"domain": [-0.2, 3.47], "nice": false}, "title": null}},
       "layer": [
        {"mark": {"type": "line", "color": "#1a1a1a", "strokeWidth": 1.6, "interpolate": "monotone"}, "encoding": {"y": {"field": "f", "type": "quantitative", "title": null}}},
        {"mark": {"type": "circle", "color": "#000", "size": 32, "opacity": 1}},
        {"transform": [{"filter": "isValid(datum.kd)"}], "layer": [
          {"mark": {"type": "text", "align": "left", "baseline": "middle", "fontSize": 5.2, "font": "Liberation Sans", "color": "#000", "clip": false}, "encoding": {"x": {"datum": -0.025}, "y": {"datum": 3}, "text": {"field": "kd"}}},
          {"mark": {"type": "text", "align": "right", "baseline": "middle", "fontSize": 5.2, "font": "Liberation Sans", "color": "#000", "clip": false}, "encoding": {"x": {"datum": 2.02}, "y": {"datum": 3}, "text": {"field": "dg"}}},
          {"transform": [{"fold": ["g", "r", "k"]}, {"filter": "datum.value"}],
           "mark": {"type": "text", "font": "Liberation Mono", "fontSize": 10, "align": "center", "baseline": "middle", "clip": false, "fontWeight": {"expr": "datum.key=='g'?'normal':'bold'"}, "fontStyle": {"expr": "datum.it?'italic':'normal'"}},
           "encoding": {"x": {"datum": 1.005}, "y": {"datum": 4.25}, "text": {"field": "value"}, "color": {"field": "key", "type": "nominal", "scale": {"domain": ["g", "r", "k"], "range": ["#8c8c8c", "#e0282e", "#000000"]}, "legend": null}}}
        ]}
       ]}},
    {"data": {"name": "D"}, "width": 138.8, "height": 1, "view": {"stroke": null},
     "mark": {"type": "point", "opacity": 0, "size": 0},
     "encoding": {"x": {"field": "x", "type": "quantitative", "scale": {"domain": [-0.075, 2.085], "nice": false}, "title": null, "axis": {"labels": true, "ticks": false, "format": ".1f", "labelPadding": 0.5}}}}
  ]}
  ]
}]
}
